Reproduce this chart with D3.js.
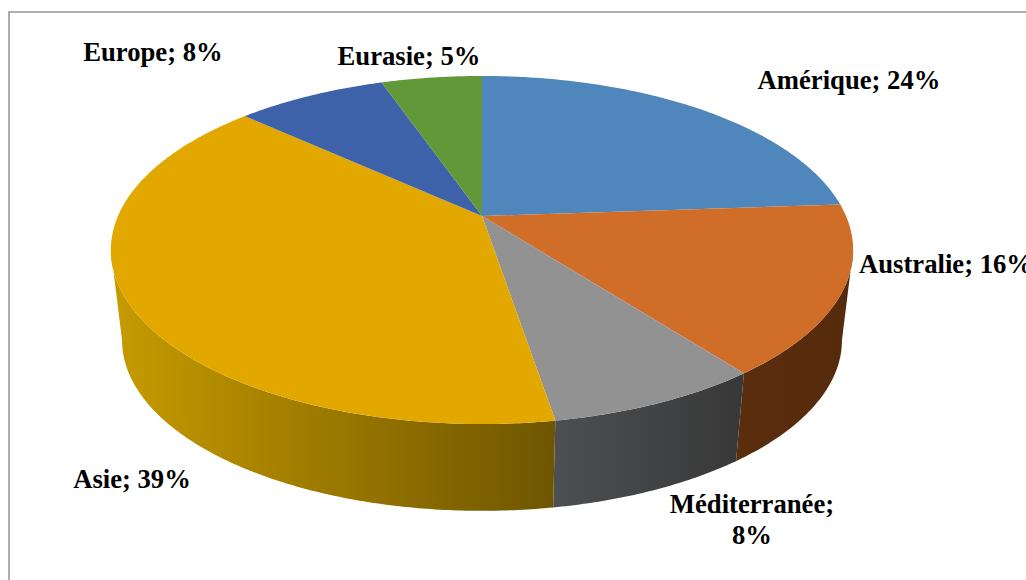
<!DOCTYPE html>
<html><head><meta charset="utf-8">
<script src="https://d3js.org/d3.v7.min.js"></script>
<style>html,body{margin:0;padding:0;background:#fff}svg{display:block}</style>
</head><body><svg id="c" width="1026" height="580"></svg>
<script>
const categories = ["Amérique","Australie","Méditerranée","Asie","Europe","Eurasie"];
const values = [23.9,15.7,7.8,39.4,7.9,5.3];
const percentLabels = ["24%","16%","8%","39%","8%","5%"];
const topColors = ["#4f86bb","#cf6d29","#929292","#e2a800","#3d62aa","#619838"];
const sideStops = [["#27435e","#27435e"],["#5a2d0d","#552b0d"],["#4d4f52","#383838"],["#c79b00","#6e5500"],["#1e3155","#1e3155"],["#304c1c","#304c1c"]];
const labelPos = [[849,89,"middle"],[859,272.5,"start"],[752,513,"middle"],[132,488,"middle"],[153,61,"middle"],[409,65,"middle"]];

const svg = d3.select("#c");
const defs = svg.append("defs");
svg.append("rect").attr("x",9).attr("y",12).attr("width",1040).attr("height",600).attr("fill","#fff").attr("stroke","#a6a6a6").attr("stroke-width",1.8);

const pie = d3.pie().sort(null).value(d=>d)(values);
const topPlane = {cx:482,cy:216,a:167.4,d:364,c:-0.1954};
const bottomPlane = {cx:482,cy:307,a:164,d:353,c:-0.1954};
const project = (pl,t)=>{const u=Math.sin(t),v=-Math.cos(t),w=1+pl.c*v;return [pl.cx+pl.d*u/w,pl.cy+pl.a*v/w];};
const arcAngles = (a0,a1)=>{const n=Math.max(2,Math.ceil((a1-a0)/0.01));return d3.range(n+1).map(i=>a0+(a1-a0)*i/n);};
const line = d3.line();
const tangent = Math.acos(topPlane.c); // angle of the widest rim point, where the wall's silhouette starts

// walls
pie.forEach((s,i)=>{
  const a0=Math.max(s.startAngle,tangent), a1=Math.min(s.endAngle,2*Math.PI-tangent);
  if(a1<=a0) return;
  const ts=arcAngles(a0,a1);
  const pts=ts.map(t=>project(topPlane,t)).concat(ts.slice().reverse().map(t=>project(bottomPlane,t)));
  const xs=pts.map(p=>p[0]);
  const id="w"+i;
  const g=defs.append("linearGradient").attr("id",id).attr("gradientUnits","userSpaceOnUse")
    .attr("x1",d3.min(xs)).attr("x2",d3.max(xs)).attr("y1",0).attr("y2",0);
  g.append("stop").attr("offset",0).attr("stop-color",sideStops[i][0]);
  g.append("stop").attr("offset",1).attr("stop-color",sideStops[i][1]);
  svg.append("path").attr("d",line(pts)+"Z").attr("fill",`url(#${id})`);
});
// top face
pie.forEach((s,i)=>{
  const pts=[[topPlane.cx,topPlane.cy]].concat(arcAngles(s.startAngle,s.endAngle).map(t=>project(topPlane,t)));
  svg.append("path").attr("d",line(pts)+"Z").attr("fill",topColors[i]);
});
// labels
categories.forEach((c,i)=>{
  const [x,y,anchor]=labelPos[i];
  const t=svg.append("text").attr("x",x).attr("y",y).attr("text-anchor",anchor)
    .attr("font-family","'Liberation Serif'").attr("font-weight","bold").attr("font-size",26.67).attr("fill","#000");
  if(i===2){
    t.append("tspan").attr("x",x).text(c+";");
    t.append("tspan").attr("x",x).attr("dy",30.5).text(percentLabels[i]);
  } else t.text(c+"; "+percentLabels[i]);
});
</script></body></html>
